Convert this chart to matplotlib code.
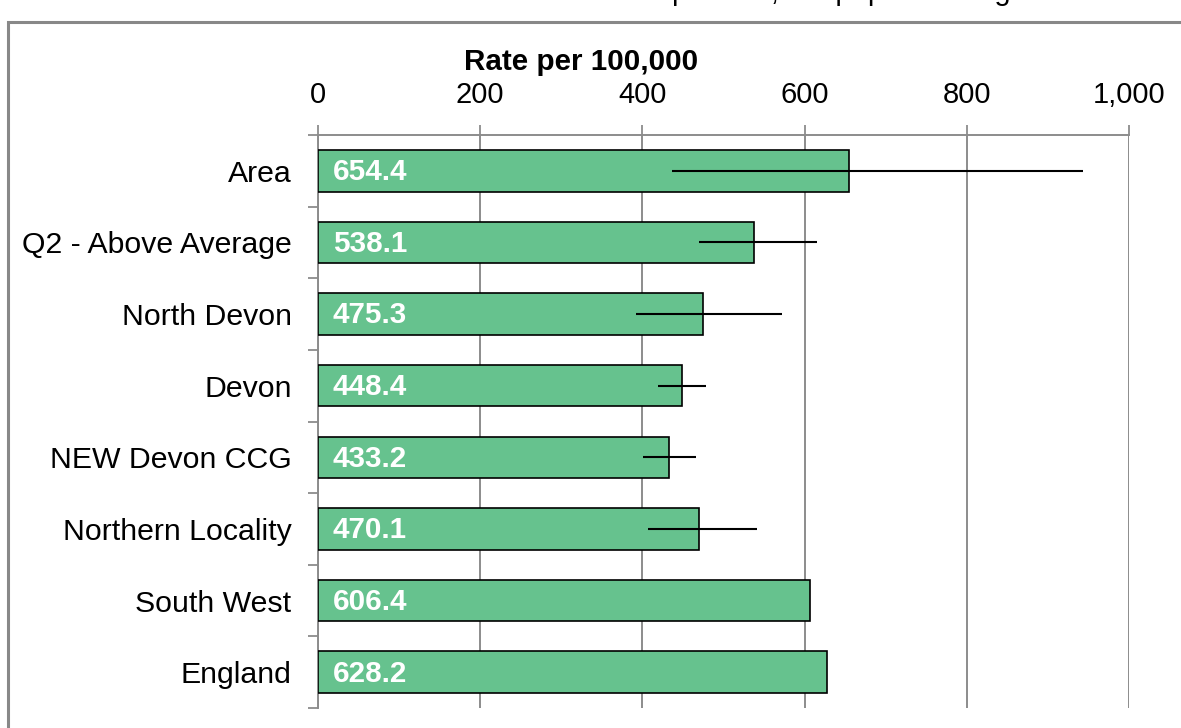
import matplotlib
matplotlib.use("Agg")
import matplotlib.pyplot as plt
from matplotlib.patches import Rectangle
from matplotlib.ticker import FixedLocator, FuncFormatter

plt.rcParams['font.family'] = ['Liberation Sans', 'DejaVu Sans']

categories = ["Area", "Q2 - Above Average", "North Devon", "Devon",
              "NEW Devon CCG", "Northern Locality", "South West", "England"]
values = [654.4, 538.1, 475.3, 448.4, 433.2, 470.1, 606.4, 628.2]
ci_low = [436, 470, 392, 419, 401, 407, None, None]
ci_high = [943, 615, 572, 478, 466, 541, None, None]
x_ticks = [0, 200, 400, 600, 800, 1000]

W, H = 1181, 728
fig = plt.figure(figsize=(W / 100, H / 100), dpi=100)
ax = fig.add_axes([318 / W, 1 - 708 / H, (1129 - 318) / W, (708 - 135) / H])

ypos = list(range(len(categories)))
bar_color = "#66C28E"
ax.barh(ypos, values, height=0.58, color=bar_color, edgecolor="black",
        linewidth=1.2, zorder=3)

for i, (lo, hi) in enumerate(zip(ci_low, ci_high)):
    if lo is not None:
        ax.plot([lo, hi], [i, i], color="black", linewidth=1.5, zorder=4,
                solid_capstyle="butt")

for i, v in enumerate(values):
    ax.text(18, i + 0.02, f"{v:.1f}", color="white", fontweight="bold",
            fontsize=21.3, ha="left", va="center", zorder=5)

ax.set_xlim(0, 1000)
ax.set_ylim(len(categories) - 0.5, -0.5)

grid_color = "#8C8C8C"
ax.xaxis.tick_top()
ax.set_xticks(x_ticks)
ax.xaxis.set_major_formatter(FuncFormatter(lambda v, p: f"{int(v):,}"))
ax.tick_params(axis="x", which="major", direction="out", length=7,
               width=1.3, color=grid_color, labelsize=21, pad=12)
ax.grid(axis="x", color=grid_color, linewidth=1.4, zorder=0)

ax.set_yticks(ypos)
ax.set_yticklabels(categories)
ax.tick_params(axis="y", which="major", length=0, labelsize=21.8, pad=19)
ax.yaxis.set_minor_locator(FixedLocator([i - 0.5 for i in range(len(categories) + 1)]))
ax.tick_params(axis="y", which="minor", length=7, width=1.3, color=grid_color)

for s in ["right", "bottom"]:
    ax.spines[s].set_visible(False)
for s in ["left", "top"]:
    ax.spines[s].set_color(grid_color)
    ax.spines[s].set_linewidth(1.4)
ax.set_axisbelow(True)

fig.text(581 / W, 1 - 70 / H, "Rate per 100,000", fontsize=21.3,
         fontweight="bold", ha="center", va="baseline")

# heading clipped at the very top of the image (only descenders visible)
fig.text(672 / W, 1.0, "per 100,000 population aged 18+",
         fontsize=21, ha="left", va="baseline", color="black")

border = Rectangle((8 / W, -0.2), 1.2, 1.2 - 22 / H, transform=fig.transFigure,
                   fill=False, edgecolor="#888888", linewidth=2.2, clip_on=False)
fig.add_artist(border)

fig.savefig("out.png", dpi=100)
